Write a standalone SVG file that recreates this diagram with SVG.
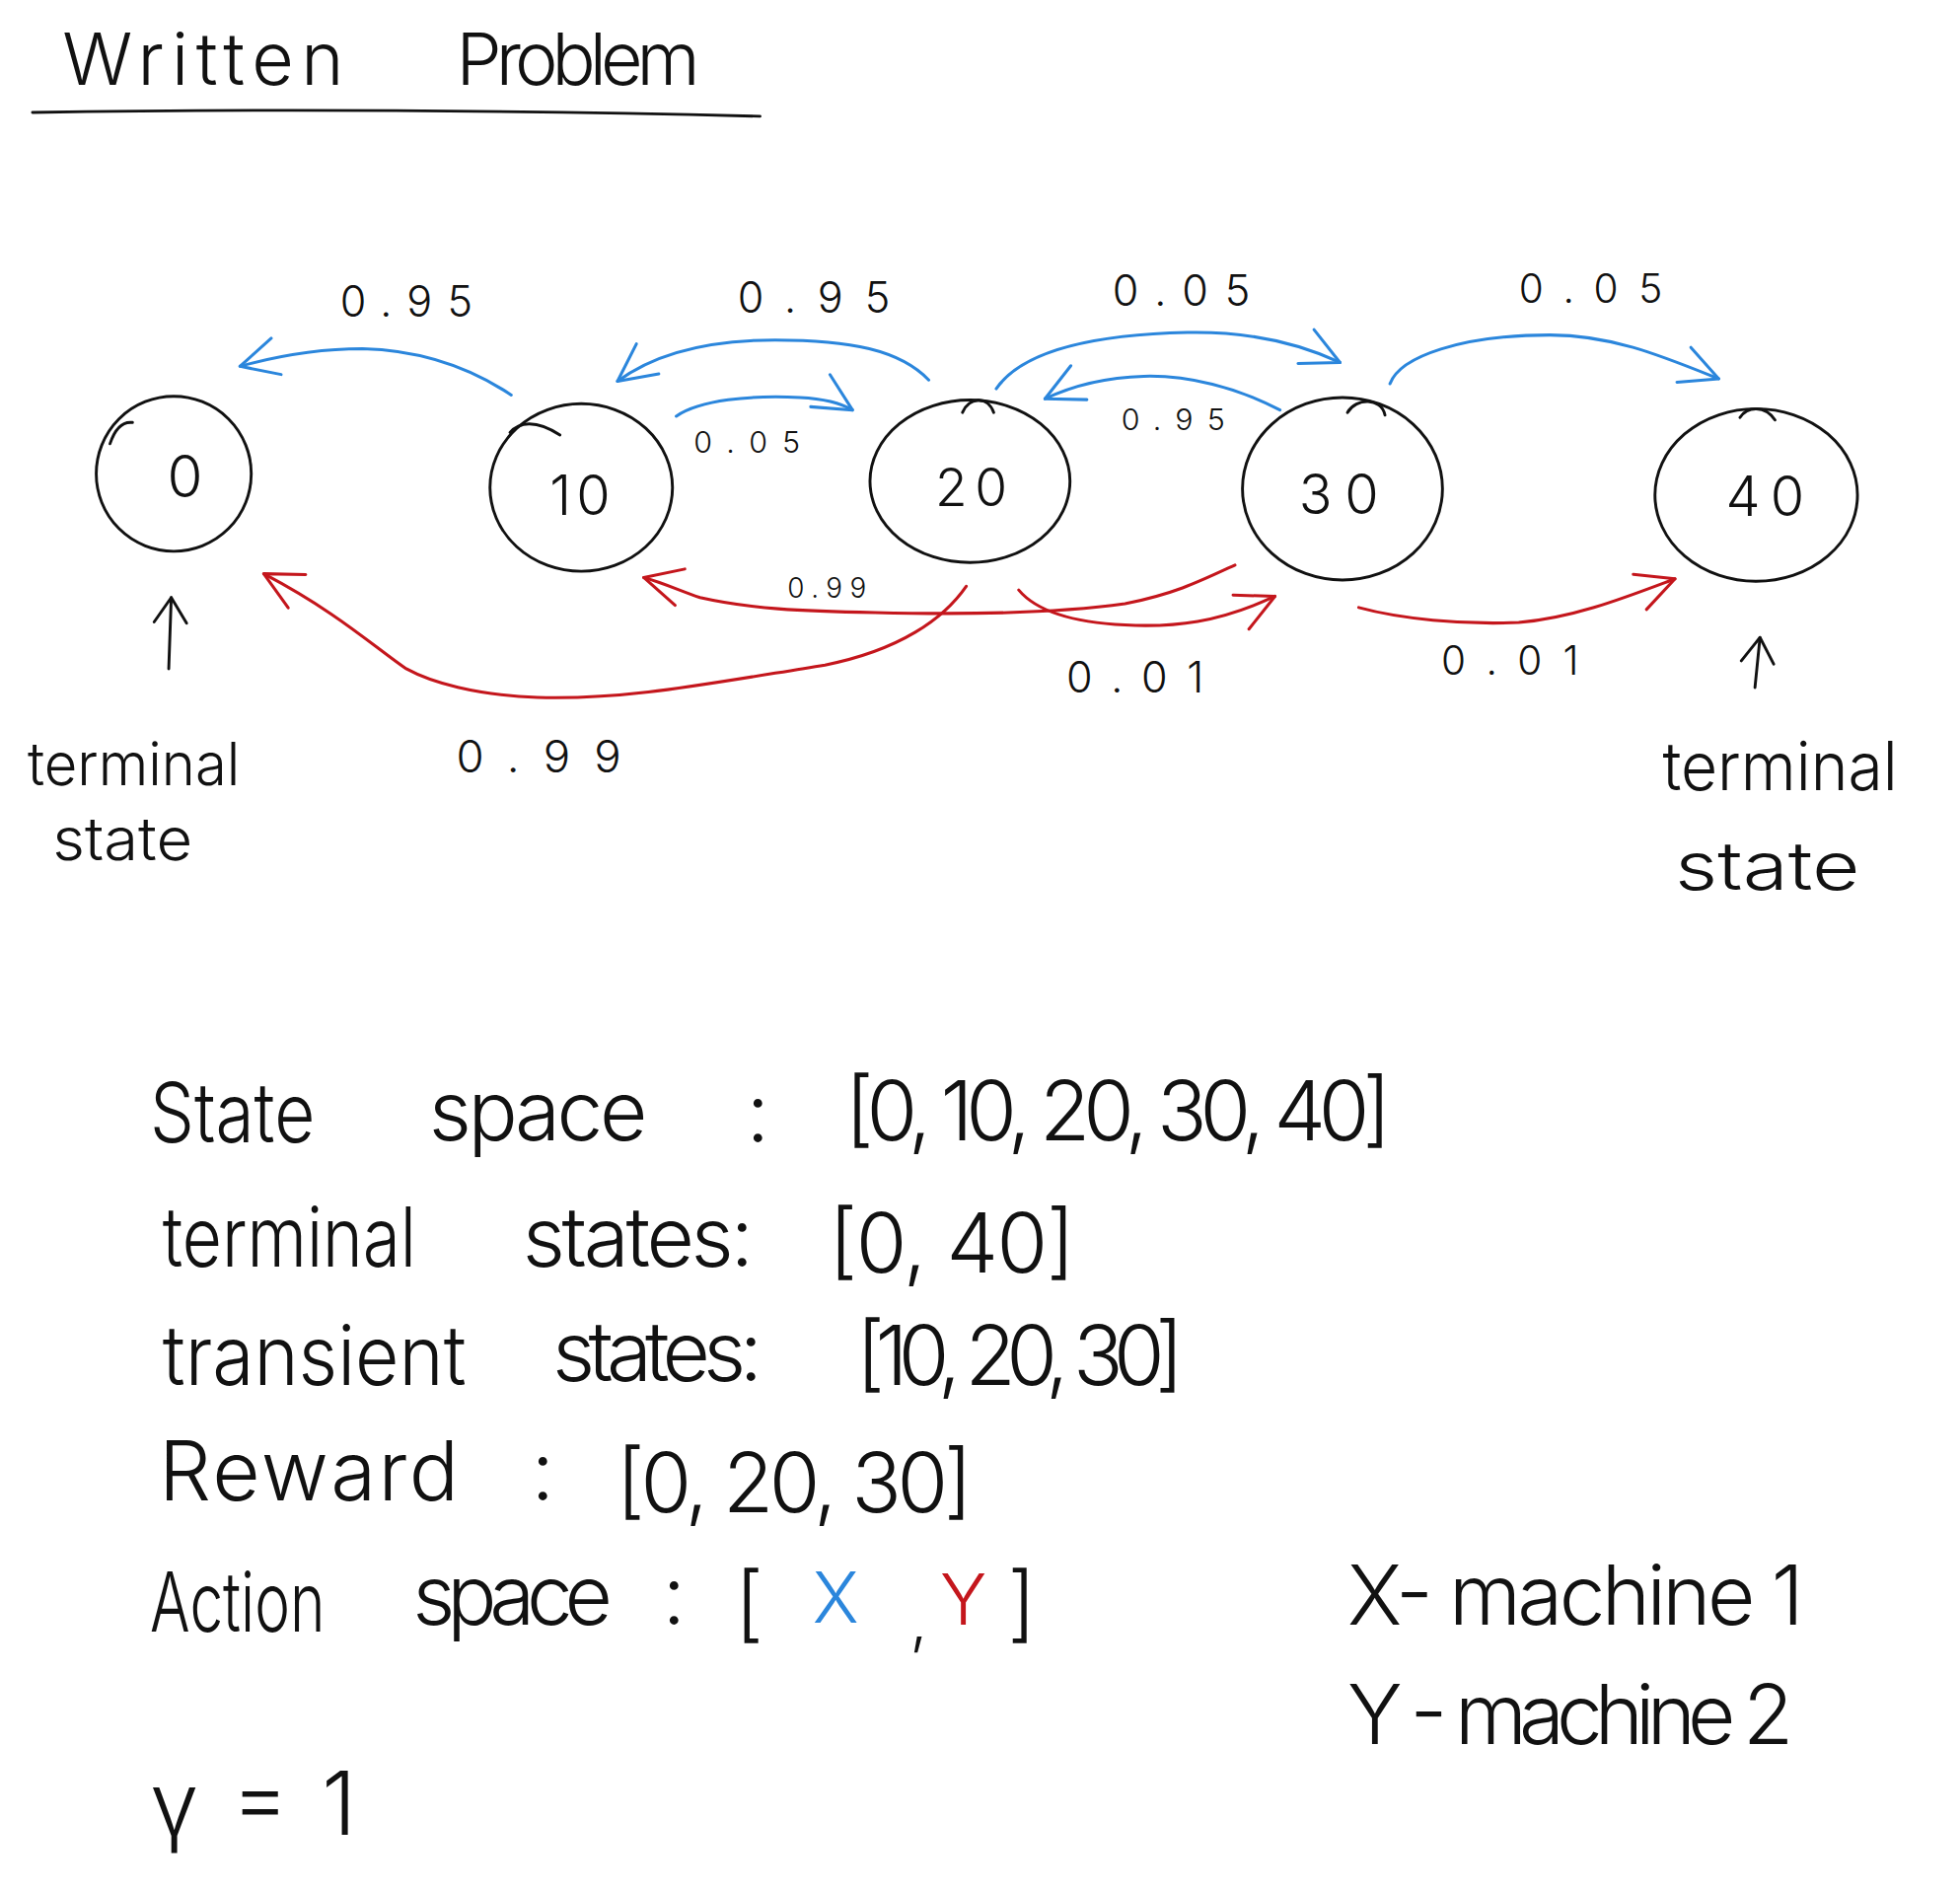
<svg xmlns="http://www.w3.org/2000/svg" width="1987" height="1918" viewBox="0 0 1987 1918">
<style>
.ring{fill:none;stroke:#111;stroke-width:2.3;stroke-linecap:round}
.t{font-family:Inter,"Liberation Sans",sans-serif;font-weight:300;fill:#111}
.b{fill:none;stroke:#2b86dc;stroke-width:2.4;stroke-linecap:round}
.r{fill:none;stroke:#c4161c;stroke-width:2.4;stroke-linecap:round}
.k{fill:none;stroke:#111;stroke-width:2.3;stroke-linecap:round}
</style>
<defs>
<marker id="mb" markerUnits="userSpaceOnUse" markerWidth="40" markerHeight="40" viewBox="-36 -20 40 40" refX="0" refY="0" orient="auto"><path d="M -30 -15 L 0 0 L -30 15" fill="none" stroke="#2b86dc" stroke-width="2.4" stroke-linecap="round" stroke-linejoin="round"/></marker>
<marker id="mr" markerUnits="userSpaceOnUse" markerWidth="40" markerHeight="40" viewBox="-36 -20 40 40" refX="0" refY="0" orient="auto"><path d="M -30 -15 L 0 0 L -30 15" fill="none" stroke="#c4161c" stroke-width="2.4" stroke-linecap="round" stroke-linejoin="round"/></marker>
<marker id="mk" markerUnits="userSpaceOnUse" markerWidth="40" markerHeight="40" viewBox="-36 -20 40 40" refX="0" refY="0" orient="auto"><path d="M -20 -13 L 0 0 L -20 13" fill="none" stroke="#111" stroke-width="2.3" stroke-linecap="round" stroke-linejoin="round"/></marker>
</defs>
<rect width="1987" height="1918" fill="#fff"/>
<g transform="scale(1.2672)">
<g id="title">
<text class="t" x="50" y="68" font-size="58" textLength="225" lengthAdjust="spacing">Written</text>
<text class="t" x="365" y="68" font-size="58" textLength="195" lengthAdjust="spacing">Problem</text>
<path class="k" d="M 26 90 C 200 87 400 88 608 93"/>
</g>
<g id="node-0">
<ellipse class="ring" cx="139" cy="379" rx="62" ry="62"/>
<path class="ring" d="M 88 355 C 92 343 98 337 106 338"/>
<text class="t" x="148" y="398" font-size="46" text-anchor="middle">0</text>
</g>
<g id="node-10">
<ellipse class="ring" cx="465" cy="390" rx="73" ry="67"/>
<path class="ring" d="M 408 346 C 415 338 428 335 448 348"/>
<text class="t" x="466" y="412" font-size="44" text-anchor="middle" letter-spacing="4">10</text>
</g>
<g id="node-20">
<ellipse class="ring" cx="776" cy="385" rx="80" ry="65"/>
<path class="ring" d="M 770 330 C 775 318 790 316 795 330"/>
<text class="t" x="780" y="405" font-size="42" text-anchor="middle" letter-spacing="6">20</text>
</g>
<g id="node-30">
<ellipse class="ring" cx="1074" cy="391" rx="80" ry="73"/>
<path class="ring" d="M 1078 330 C 1085 318 1105 318 1108 332"/>
<text class="t" x="1076" y="411" font-size="44" text-anchor="middle" letter-spacing="10">30</text>
</g>
<g id="node-40">
<ellipse class="ring" cx="1405" cy="396" rx="81" ry="69"/>
<path class="ring" d="M 1392 334 C 1398 325 1412 324 1420 336"/>
<text class="t" x="1416" y="413" font-size="44" text-anchor="middle" letter-spacing="8">40</text>
</g>
<g id="connectors">
<path class="b" marker-end="url(#mb)" d="M 409 316 C 370 290 330 280 290 279 C 255 279 225 284 192 293"/>
<path class="b" marker-end="url(#mb)" d="M 743 304 C 720 280 680 272 620 272 C 570 272 525 282 494 305"/>
<path class="b" marker-end="url(#mb)" d="M 541 333 C 560 320 600 316 640 318 C 660 319 672 322 682 328"/>
<path class="b" marker-end="url(#mb)" d="M 797 311 C 815 285 860 268 950 266 C 1000 265 1040 275 1072 290"/>
<path class="b" marker-end="url(#mb)" d="M 1024 328 C 990 310 950 300 915 301 C 880 302 855 310 836 319"/>
<path class="b" marker-end="url(#mb)" d="M 1112 307 C 1120 285 1170 268 1240 268 C 1290 268 1330 285 1375 303"/>
<path class="r" marker-end="url(#mr)" d="M 773 469 C 755 495 720 520 660 532 C 560 548 500 560 430 558 C 380 556 345 546 325 535 C 300 518 270 490 211 459"/>
<path class="r" marker-end="url(#mr)" d="M 988 452 C 960 465 940 475 900 483 C 850 490 780 492 700 490 C 640 489 600 487 560 478 C 545 473 530 466 515 462"/>
<path class="r" marker-end="url(#mr)" d="M 815 472 C 830 490 860 498 900 500 C 940 502 975 498 1020 477"/>
<path class="r" marker-end="url(#mr)" d="M 1087 486 C 1120 495 1170 500 1215 498 C 1260 494 1300 478 1340 463"/>
<path class="k" marker-end="url(#mk)" d="M 135 535 L 137 478"/>
<path class="k" marker-end="url(#mk)" d="M 1404 550 L 1408 510"/>
<text class="t" x="272" y="253" font-size="34" textLength="106" lengthAdjust="spacing">0.95</text>
<text class="t" x="590" y="250" font-size="34" textLength="122" lengthAdjust="spacing">0.95</text>
<text class="t" x="555" y="362" font-size="24" textLength="85" lengthAdjust="spacing">0.05</text>
<text class="t" x="890" y="245" font-size="34" textLength="110" lengthAdjust="spacing">0.05</text>
<text class="t" x="897" y="344" font-size="24" textLength="83" lengthAdjust="spacing">0.95</text>
<text class="t" x="1215" y="242" font-size="32" textLength="115" lengthAdjust="spacing">0.05</text>
<text class="t" x="365" y="618" font-size="36" textLength="132" lengthAdjust="spacing">0.99</text>
<text class="t" x="630" y="478" font-size="22" textLength="63" lengthAdjust="spacing">0.99</text>
<text class="t" x="853" y="554" font-size="34" textLength="110" lengthAdjust="spacing">0.01</text>
<text class="t" x="1153" y="540" font-size="32" textLength="110" lengthAdjust="spacing">0.01</text>
</g>
<g id="terminal-labels">
<text class="t" x="22" y="628" font-size="48" textLength="170" lengthAdjust="spacingAndGlyphs">terminal</text>
<text class="t" x="42" y="688" font-size="48" textLength="112" lengthAdjust="spacingAndGlyphs">state</text>
<text class="t" x="1330" y="632" font-size="54" textLength="188" lengthAdjust="spacingAndGlyphs">terminal</text>
<text class="t" x="1340" y="712" font-size="54" textLength="148" lengthAdjust="spacingAndGlyphs">state</text>
</g>
<g id="definitions" font-size="66">
<text class="t" x="120" y="914" textLength="132" lengthAdjust="spacingAndGlyphs">State</text>
<text class="t" x="343" y="912" textLength="175" lengthAdjust="spacing">space</text>
<text class="t" x="597" y="914">:</text>
<text class="t" x="676" y="912" textLength="437" lengthAdjust="spacing">[0, 10, 20, 30, 40]</text>
<text class="t" x="130" y="1013" textLength="203" lengthAdjust="spacingAndGlyphs">terminal</text>
<text class="t" x="418" y="1013" textLength="185" lengthAdjust="spacing">states:</text>
<text class="t" x="663" y="1018" textLength="197" lengthAdjust="spacing">[0, 40]</text>
<text class="t" x="130" y="1108" textLength="243" lengthAdjust="spacingAndGlyphs">transient</text>
<text class="t" x="442" y="1105" textLength="168" lengthAdjust="spacing">states:</text>
<text class="t" x="685" y="1108" textLength="262" lengthAdjust="spacing">[10, 20, 30]</text>
<text class="t" x="127" y="1200" textLength="240" lengthAdjust="spacing">Reward</text>
<text class="t" x="425" y="1200">:</text>
<text class="t" x="493" y="1210" textLength="285" lengthAdjust="spacing">[0, 20, 30]</text>
<text class="t" x="120" y="1305" textLength="140" lengthAdjust="spacingAndGlyphs">Action</text>
<text class="t" x="330" y="1300" textLength="160" lengthAdjust="spacing">space</text>
<text class="t" x="530" y="1300">:</text>
<text class="t" y="1305"><tspan x="588">[</tspan><tspan x="650" y="1298" fill="#2b86dc" font-size="56">X</tspan><tspan x="728" y="1314" font-size="50">,</tspan><tspan x="752" y="1300" fill="#c4161c" font-size="56">Y</tspan><tspan x="806" y="1305">]</tspan></text>
<text class="t" x="1078" y="1300" textLength="365" lengthAdjust="spacing">X- machine 1</text>
<text class="t" x="1078" y="1395" textLength="357" lengthAdjust="spacing">Y - machine 2</text>
<text class="t" x="120" y="1468" font-size="70" textLength="165" lengthAdjust="spacing">γ = 1</text>
</g>
</g>
</svg>
